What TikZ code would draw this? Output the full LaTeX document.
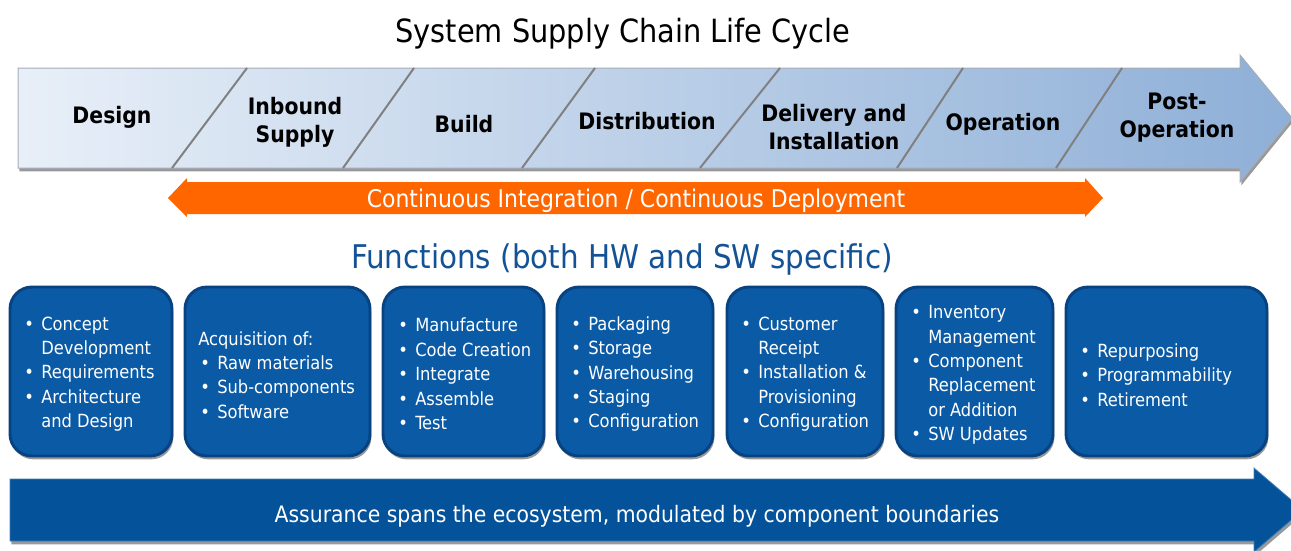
\documentclass[tikz,border=0pt]{standalone}
\usepackage{fontspec}
\setmainfont{DejaVu Sans Condensed}
\usetikzlibrary{shadows}
\definecolor{phaseL}{RGB}{232,239,248}
\definecolor{phaseR}{RGB}{142,175,215}
\definecolor{phaseEdge}{RGB}{165,172,185}
\definecolor{divgray}{RGB}{128,128,128}
\definecolor{ciorange}{RGB}{255,102,0}
\definecolor{functblue}{RGB}{20,82,150}
\definecolor{boxblue}{RGB}{10,90,166}
\definecolor{boxedge}{RGB}{8,66,128}
\definecolor{assureblue}{RGB}{3,82,154}
\definecolor{assureedge}{RGB}{70,125,185}
\newcommand\bul{\makebox[12.75pt][l]{•}}
\newcommand\ind{\hspace*{12.75pt}}
\begin{document}
\begin{tikzpicture}[x=0.75pt,y=-0.75pt,
  softshadow/.style={drop shadow={shadow xshift=1pt,shadow yshift=-2.5pt,opacity=0.4,fill=black}},
  phase/.style={font=\fontsize{17}{21}\selectfont\bfseries,align=center,text=black,inner sep=0pt},
  divider/.style={draw=divgray,line width=1.5pt},
  fbox/.style={draw=boxedge,line width=2.2pt,fill=boxblue,rounded corners=16.5pt,
    minimum height=126.75pt,softshadow,inner sep=0pt},
  ftext/.style={font=\fontsize{13.6}{18.3}\selectfont,text=white,align=left,inner sep=0pt,anchor=west}]
\useasboundingbox (0,0) rectangle (1291,550);

% title
\node[font=\fontsize{24}{28}\selectfont] (title) at (623,34) {System Supply Chain Life Cycle};

% top life-cycle arrow
\path[softshadow,left color=phaseL,right color=phaseR,draw=phaseEdge,line width=0.75pt]
  (18,68) -- (1240,68) -- (1240,55) -- (1292,118) -- (1240,182) -- (1240,168) -- (18,168) -- cycle;
\draw[divider] (172,168) -- (247,68);
\draw[divider] (343,168) -- (414,68);
\draw[divider] (522,168) -- (595,68);
\draw[divider] (700,168) -- (780,68);
\draw[divider] (897,168) -- (963,68);
\draw[divider] (1056,168) -- (1122,68);

\node[phase] (design) at (112,117) {Design};
\node[phase] (inbound) at (295,122) {Inbound\\Supply};
\node[phase] (build) at (464,124) {Build};
\node[phase] (distr) at (647,121) {Distribution};
\node[phase] (deliv) at (834,127) {Delivery and\\Installation};
\node[phase] (oper) at (1003,124) {Operation};
\node[phase] (post) at (1177,118) {Post-\\Operation};

% CI/CD double arrow
\fill[ciorange] (168,198) -- (187,178) -- (187,182) -- (1085,182) -- (1085,178) -- (1103,198)
  -- (1085,217) -- (1085,214) -- (187,214) -- (187,217) -- cycle;
\node[font=\fontsize{18.3}{22}\selectfont,text=white] (cicd) at (636,201) {Continuous Integration / Continuous Deployment};

% functions heading
\node[font=\fontsize{24.5}{29}\selectfont,text=functblue] (funcs) at (622,259) {Functions (both HW and SW specific)};

% function boxes
\node[fbox,minimum width=121.5pt] (b1) at (91,371.5) {};
\node[fbox,minimum width=138.75pt] (b2) at (277.5,371.5) {};
\node[fbox,minimum width=120.75pt] (b3) at (463.5,371.5) {};
\node[fbox,minimum width=117pt] (b4) at (635,371.5) {};
\node[fbox,minimum width=117pt] (b5) at (805,371.5) {};
\node[fbox,minimum width=117.75pt] (b6) at (974.5,371.5) {};
\node[fbox,minimum width=150.75pt] (b7) at (1166.5,371.5) {};

\node[ftext] (t1) at (24,374) {\bul Concept\\\ind Development\\\bul Requirements\\\bul Architecture\\\ind and Design};
\node[ftext] (t2) at (198,375) {Acquisition of:\\\hspace*{1.5pt}\bul Raw materials\\\hspace*{1.5pt}\bul Sub-components\\\hspace*{1.5pt}\bul Software};
\node[ftext] (t3) at (398,374) {\bul Manufacture\\\bul Code Creation\\\bul Integrate\\\bul Assemble\\\bul Test};
\node[ftext] (t4) at (571,374) {\bul Packaging\\\bul Storage\\\bul Warehousing\\\bul Staging\\\bul Configuration};
\node[ftext] (t5) at (741,374) {\bul Customer\\\ind Receipt\\\bul Installation \&\\\ind Provisioning\\\bul Configuration};
\node[ftext] (t6) at (911,375) {\bul Inventory\\\ind Management\\\bul Component\\\ind Replacement\\\ind or Addition\\\bul SW Updates};
\node[ftext] (t7) at (1080,375) {\bul Repurposing\\\bul Programmability\\\bul Retirement};

% assurance arrow
\path[softshadow,fill=assureblue,draw=assureedge,line width=0.6pt]
  (10,479) -- (1254,479) -- (1254,468) -- (1303,510) -- (1254,552) -- (1254,541) -- (10,541) -- cycle;
\node[font=\fontsize{17}{21}\selectfont,text=white] (assure) at (637,516) {Assurance spans the ecosystem, modulated by component boundaries};
\end{tikzpicture}
\end{document}
